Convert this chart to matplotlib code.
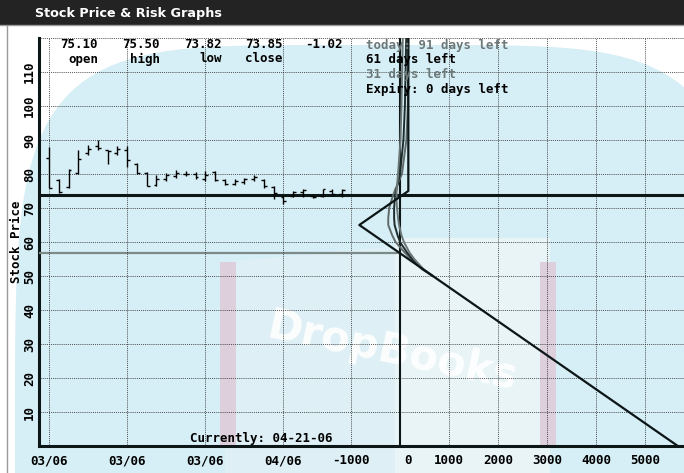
import numpy as np
import matplotlib
matplotlib.use('Agg')
import matplotlib.pyplot as plt
from matplotlib.patches import Polygon, Rectangle
from matplotlib.transforms import ScaledTranslation

# daily price bars (open, high, low, close)
bar_open = [84.6, 78.3, 76.3, 80.3, 86.3, 88.3, 87.0, 86.3, 87.0, 83.0, 80.2,
            76.8, 78.5, 79.5, 80.1, 79.9, 78.4, 80.6, 78.3, 77.2, 77.6,
            78.5, 78.3, 76.3, 73.3, 73.5, 74.6, 73.5, 73.4, 75.1, 74.2]
bar_high = [88.0, 78.6, 81.4, 87.2, 88.5, 89.9, 87.2, 88.2, 88.2, 83.2, 80.6,
            79.8, 80.3, 81.2, 80.8, 80.5, 80.8, 80.8, 78.6, 78.4, 78.8,
            79.8, 78.4, 76.4, 73.6, 75.0, 75.7, 73.8, 75.7, 75.5, 75.7]
bar_low = [76.0, 74.5, 76.0, 80.0, 85.6, 87.0, 83.0, 85.6, 82.2, 80.0, 76.4,
           76.4, 77.9, 78.8, 79.3, 78.6, 77.9, 77.9, 76.9, 76.9, 77.2,
           77.9, 76.0, 72.6, 71.2, 73.1, 73.1, 72.8, 73.1, 73.5, 73.3]
bar_close = [76.0, 74.8, 81.2, 84.5, 87.3, 87.5, 86.8, 87.3, 84.0, 80.4, 76.6,
             78.6, 79.7, 80.2, 80.0, 79.0, 79.8, 78.2, 77.2, 77.9, 78.5,
             79.1, 76.5, 74.5, 72.2, 74.6, 75.2, 73.2, 75.5, 74.1, 75.3]
date_ticks = [0, 8, 16, 24]
date_labels = ['03/06', '03/06', '03/06', '04/06']

# risk graph: profit/loss against stock price
expiry_price = [122, 75, 65, 0]
expiry_pl = [170, 170, -830, 5670]
curve_price = [122, 100, 90, 80, 75, 72, 70, 67, 65, 62, 60, 57, 55, 52, 50]
today_pl = [60, 30, 10, -40, -70, -70, -60, -40, -20, 30, 80, 190, 290, 480, 670]
d61_pl = [130, 100, 70, 0, -80, -110, -120, -120, -110, -50, 0, 140, 250, 460, 670]
d31_pl = [170, 160, 130, 40, -110, -180, -220, -240, -240, -160, -90, 90, 220, 450, 670]
pl_ticks = [-1000, 0, 1000, 2000, 3000, 4000, 5000]
price_ticks = list(range(10, 130, 10))

close_price = 73.85
breakeven = 56.7
stat_values = ['75.10', '75.50', '73.82', '73.85', '-1.02']
stat_names = ['open', 'high', 'low', 'close', '']
legend_rows = ['today: 91 days left', '61 days left', '31 days left', 'Expiry: 0 days left']

W, H = 684, 473
MONO = 'DejaVu Sans Mono'
GREY = '#6c7878'
DARK = '#0c1616'
GRID = dict(color='#222222', lw=0.6, linestyle=(0, (1, 1.3)))

fig = plt.figure(figsize=(W / 100, H / 100), dpi=100)

# background, header and watermark (pixel coordinates)
bg = fig.add_axes([0, 0, 1, 1])
bg.set_xlim(0, W)
bg.set_ylim(H, 0)
bg.axis('off')
bg.add_patch(Rectangle((0, 0), W, H, color='white'))
t = np.linspace(0, 2 * np.pi, 400)
cx, cy, a, b, n = 380, 480, 365, 435, 5
ex = cx + a * np.sign(np.cos(t)) * np.abs(np.cos(t)) ** (2 / n)
ey = cy + b * np.sign(np.sin(t)) * np.abs(np.sin(t)) ** (2 / n)
bg.fill(ex, ey, color='#d6eef5', lw=0)
bg.add_patch(Polygon([(225, 262), (395, 246), (395, H), (225, H)], color='#def0f5', lw=0))
bg.add_patch(Polygon([(395, 238), (550, 238), (550, H), (395, H)], color='#e9f4f7', lw=0))
bg.add_patch(Rectangle((220, 262), 16, 183, color='#ddd0dc', lw=0))
bg.add_patch(Rectangle((540, 262), 16, 183, color='#ddd0dc', lw=0))
bg.text(392, 352, 'DropBooks', color='white', alpha=0.9, fontsize=30, fontweight='bold',
        rotation=-12, ha='center', va='center', family='DejaVu Sans')
bg.add_patch(Rectangle((0, 0), W, 25, color='#232323', lw=0))
bg.plot([0, W], [25.5, 25.5], color='#9a9a9a', lw=1)
bg.plot([7, 7], [26, H], color='#9a9a9a', lw=1)
bg.text(35, 13, 'Stock Price & Risk Graphs', color='white', fontsize=9.2,
        fontweight='bold', va='center', family='DejaVu Sans')

L, R, T, B = 39, 684, 38, 446
rect = [L / W, 1 - B / H, (R - L) / W, (B - T) / H]
pl_per_px = 1000 / 49.0

# risk graph axes
ax = fig.add_axes(rect)
ax.set_facecolor('none')
ax.set_xlim((L - 400) * pl_per_px, (R - 400) * pl_per_px)
ax.set_ylim(0, 120)
ax.set_xticks(pl_ticks)
ax.set_xticklabels([str(v) for v in pl_ticks])
ax.set_yticks(price_ticks)
ax.set_yticklabels([str(v) if v < 120 else '' for v in price_ticks], rotation=90, va='center')
ax.grid(True, **GRID)
ax.tick_params(length=0, labelsize=9)
ax.tick_params(axis='x', pad=6)
ax.tick_params(axis='y', pad=2)
for lbl in ax.get_xticklabels() + ax.get_yticklabels():
    lbl.set_family(MONO)
    lbl.set_fontweight('bold')
zero_lbl = ax.get_xticklabels()[1]
zero_lbl.set_transform(zero_lbl.get_transform() + ScaledTranslation(0.08, 0, fig.dpi_scale_trans))
for s in ['top', 'right']:
    ax.spines[s].set_visible(False)
for s in ['left', 'bottom']:
    ax.spines[s].set_linewidth(2.2)
    ax.spines[s].set_color(DARK)

ax.axvline(0, color=DARK, lw=1.5, zorder=3)
ax.axhline(close_price, color=DARK, lw=2.2, zorder=3)
ax.hlines(breakeven, ax.get_xlim()[0], 0, color='#7d8a8a', lw=1.6, zorder=3)
ax.plot(d31_pl, curve_price, color='#5f6b6b', lw=1.4, zorder=4)
ax.plot(d61_pl, curve_price, color='#1e2c2c', lw=1.4, zorder=4)
ax.plot(today_pl, curve_price, color=GREY, lw=1.4, zorder=4)
ax.plot(expiry_pl, expiry_price, color=DARK, lw=1.6, zorder=5)

# price history axes overlaid on the left part
axh = fig.add_axes(rect)
axh.set_facecolor('none')
axh.set_xlim((L - 49) / 9.77, (R - 49) / 9.77)
axh.set_ylim(0, 120)
axh.set_xticks(date_ticks)
axh.set_xticklabels(date_labels)
axh.set_yticks([])
axh.grid(True, axis='x', **GRID)
axh.tick_params(length=0, labelsize=9, pad=6)
for lbl in axh.get_xticklabels():
    lbl.set_family(MONO)
    lbl.set_fontweight('bold')
for s in axh.spines.values():
    s.set_visible(False)
idx = np.arange(len(bar_open))
axh.vlines(idx, bar_low, bar_high, color='black', lw=1)
axh.hlines(bar_open, idx - 0.3, idx, color='black', lw=1)
axh.hlines(bar_close, idx, idx + 0.3, color='black', lw=1)


def px(x, y):
    return x / W, 1 - y / H


for i, (v, nm) in enumerate(zip(stat_values, stat_names)):
    right = [98, 160, 222, 283, 343][i]
    fig.text(*px(right, 44), v, ha='right', va='center', family=MONO,
             fontweight='bold', fontsize=9)
    fig.text(*px(right, 59), nm, ha='right', va='center', family=MONO,
             fontweight='bold', fontsize=9)

row_colors = [GREY, 'black', GREY, 'black']
for i, (txt, c) in enumerate(zip(legend_rows, row_colors)):
    fig.text(*px(366, 45 + i * 14.7), txt, ha='left', va='center', family=MONO,
             fontweight='bold', fontsize=9, color=c)

fig.text(*px(190, 438), 'Currently: 04-21-06', ha='left', va='center', family=MONO,
         fontweight='bold', fontsize=9)
fig.text(*px(17, 242), 'Stock Price', rotation=90, ha='center', va='center',
         family=MONO, fontweight='bold', fontsize=9)

fig.savefig('out.png', dpi=100)
